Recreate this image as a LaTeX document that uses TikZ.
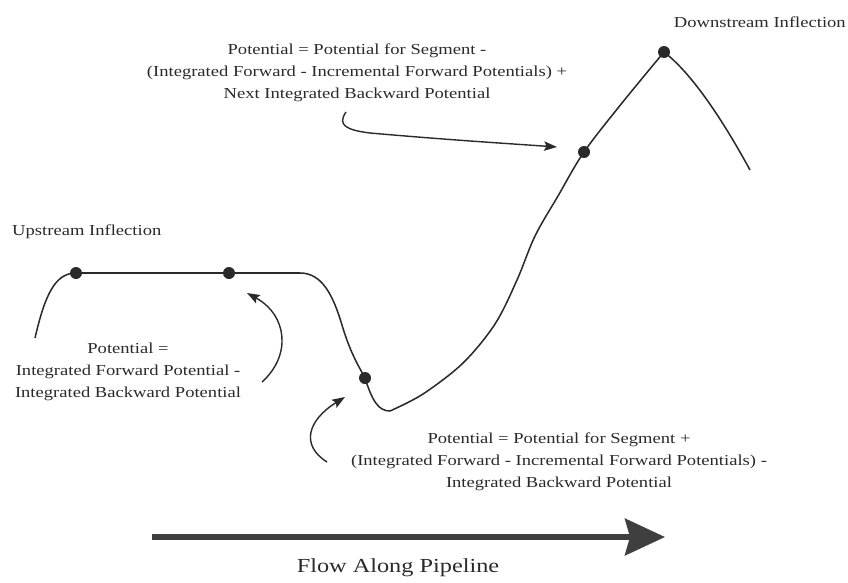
\documentclass[tikz,border=0pt]{standalone}
\usepackage{fontspec}
\setmainfont{Liberation Serif}[FakeStretch=1.22]
\usetikzlibrary{arrows.meta}
\definecolor{ink}{HTML}{2A2A2A}
\tikzset{
  lbl/.style={inner sep=0pt, text=ink, font=\fontsize{13}{18.7}\selectfont, align=center},
  pt/.style={circle, fill=ink, inner sep=0pt, minimum size=0.36cm},
  pipe/.style={draw=ink, line width=1.3pt, line join=round},
  callout/.style={draw=ink, line width=1.2pt, -{Stealth[length=11pt,width=8pt,inset=2pt]}},
  flow/.style={draw=ink!90, line width=4.5pt, -{Stealth[length=1.2cm,width=1.1cm,inset=0.15cm]}}
}
\begin{document}
\begin{tikzpicture}[x=0.03cm,y=-0.03cm]
\useasboundingbox (0,0) rectangle (848,582);
% dots
\node[pt] (d1) at (76,273) {};
\node[pt] (d2) at (229,273) {};
\node[pt] (d3) at (365,378) {};
\node[pt] (d4) at (584,152) {};
\node[pt] (d5) at (664,52) {};
\coordinate (cs) at (35,338);
\coordinate (cb) at (390,411);
\coordinate (ce) at (750,170);
% pipeline profile
\draw[pipe] (cs) .. controls (45,295) and (55,273) .. (d1.center) -- (d2.center) -- (300,273)
  .. controls (322,273) and (333,295) .. (342,325)
  .. controls (350,352) and (358,365) .. (d3.center)
  .. controls (372,400) and (378,411) .. (cb);
\draw[pipe] plot[smooth, tension=0.55] coordinates {(cb) (423,394) (463,363) (495,324) (517,280) (535,236) (558,196) (d4.center) (622,103) (d5.center)};
\draw[pipe] (d5.center) .. controls (690,72) and (720,115) .. (ce);
% labels
\node[lbl, anchor=west] (up) at (12,232) {Upstream Inflection};
\node[lbl, anchor=east] (down) at (846,22) {Downstream Inflection};
\node[lbl] (top) at (357,73) {Potential = Potential for Segment -\\(Integrated Forward - Incremental Forward Potentials) +\\Next Integrated Backward Potential};
\node[lbl] (left) at (128,372) {Potential =\\Integrated Forward Potential -\\Integrated Backward Potential};
\node[lbl] (bot) at (559,462) {Potential = Potential for Segment +\\(Integrated Forward - Incremental Forward Potentials) -\\Integrated Backward Potential};
% callout arrows
\coordinate (a1s) at (262,382);
\coordinate (a1e) at (247,293);
\draw[callout] (a1s) .. controls (292,355) and (287,315) .. (a1e);
\coordinate (a2s) at (327,462);
\coordinate (a2e) at (345,397);
\draw[callout] (a2s) .. controls (300,445) and (308,420) .. (a2e);
\coordinate (a3s) at (346,112);
\coordinate (a3e) at (557,147);
\draw[callout] (a3s) .. controls (337,125) and (346,130) .. (370,133) .. controls (450,140) and (500,143) .. (a3e);
% flow arrow
\coordinate (fs) at (152,537);
\coordinate (fe) at (665,537);
\draw[flow] (fs) -- (fe);
\node[lbl, font=\fontsize{17}{20}\selectfont] (flowlbl) at (398,568) {Flow Along Pipeline};
\end{tikzpicture}
\end{document}
